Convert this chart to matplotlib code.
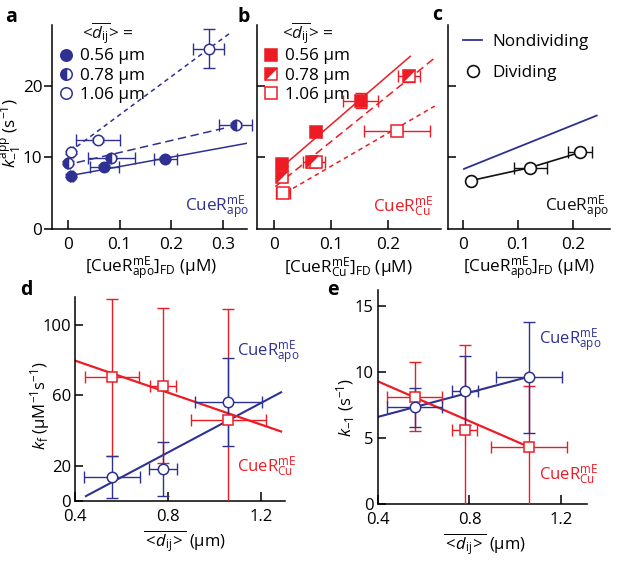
import numpy as np
import matplotlib
matplotlib.use('Agg')
import matplotlib.pyplot as plt
from matplotlib.legend_handler import HandlerTuple

plt.rcParams['font.family'] = ['Open Sans', 'DejaVu Sans']
plt.rcParams['mathtext.fontset'] = 'custom'
plt.rcParams['mathtext.rm'] = 'Open Sans'
plt.rcParams['mathtext.it'] = 'Open Sans:italic'
plt.rcParams['mathtext.bf'] = 'Open Sans:bold'
plt.rcParams['mathtext.sf'] = 'Open Sans'
plt.rcParams['mathtext.fallback'] = 'stixsans'

BLUE = '#2E3192'
RED = '#ED1C24'
BLACK = '#111111'

# ---------------- data ----------------
dij_labels = ['0.56 μm', '0.78 μm', '1.06 μm']

# panel a: CueR_apo, k_-1^app vs [CueR_apo]_FD
a_x = [[0.006, 0.070, 0.189], [0.001, 0.084, 0.325], [0.006, 0.058, 0.273]]
a_y = [[7.45, 8.7, 9.8], [9.27, 9.97, 14.5], [10.7, 12.45, 25.2]]
a_xerr = [[0.003, 0.028, 0.022], [0.003, 0.045, 0.032], [0.003, 0.043, 0.030]]
a_yerr = [[0.2, 0.2, 0.2], [0.2, 0.2, 0.3], [0.2, 0.3, 2.7]]
a_fit_intercept = [7.4, 9.0, 10.6]
a_fit_slope = [13.2, 16.8, 53.4]
a_fit_xstart = [0.005, 0.017, 0.017]
a_fit_xend = [0.347, 0.31, 0.315]

# panel b: CueR_Cu
b_x = [[0.0135, 0.074, 0.152], [0.0135, 0.066, 0.237], [0.016, 0.074, 0.215]]
b_y = [[9.1, 13.5, 17.95], [7.3, 9.3, 21.4], [5.0, 9.3, 13.7]]
b_xerr = [[0.005, 0.008, 0.031], [0.005, 0.015, 0.02], [0.012, 0.016, 0.058]]
b_yerr = [[0.3, 0.3, 1.0], [0.3, 0.3, 0.8], [0.3, 0.3, 0.3]]
b_fit_intercept = [7.73, 5.8, 4.15]
b_fit_slope = [68.6, 64.2, 46.2]
b_fit_xstart = [0.0076, 0.002, 0.0076]
b_fit_xend = [0.239, 0.282, 0.282]

# panel c: dividing vs nondividing
c_div_x = [0.0145, 0.122, 0.213]
c_div_y = [6.76, 8.58, 10.7]
c_div_xerr = [0.004, 0.03, 0.022]
c_nondiv_x = [0.002, 0.243]
c_nondiv_y = [8.4, 15.85]

# panel d: k_f vs <d_ij>
dij = [0.56, 0.78, 1.06]
d_apo_y = [13.7, 18.2, 56.2]
d_apo_yerr = [12.0, 15.5, 25.0]
d_apo_xerr = [0.12, 0.06, 0.145]
d_cu_y = [70.4, 65.5, 46.2]
d_cu_yerr = [44.7, 44.0, 63.0]
d_cu_xerr = [0.115, 0.055, 0.162]
d_fit_apo = (-28.6, 70.2)   # intercept, slope
d_fit_apo_x = [0.447, 1.288]
d_fit_cu = (98.0, -45.4)
d_fit_cu_x = [0.4, 1.288]

# panel e: k_-1 vs <d_ij>
e_apo_y = [7.3, 8.56, 9.6]
e_apo_yerr = [1.5, 2.6, 4.2]
e_apo_xerr = [0.122, 0.058, 0.145]
e_cu_y = [8.13, 5.6, 4.3]
e_cu_yerr = [2.6, 6.4, 4.6]
e_cu_xerr = [0.12, 0.055, 0.166]
e_fit_apo = (4.75, 4.6)
e_fit_apo_x = [0.4, 1.06]
e_fit_cu = (12.27, -7.5)
e_fit_cu_x = [0.4, 1.06]

# ---------------- figure ----------------
fig = plt.figure(figsize=(6.18, 5.65), dpi=100)
ax_a = fig.add_axes([0.0841, 0.5947, 0.3155, 0.361])
ax_b = fig.add_axes([0.4159, 0.5947, 0.2977, 0.361])
ax_c = fig.add_axes([0.7249, 0.5947, 0.2621, 0.361])
ax_d = fig.add_axes([0.1214, 0.1133, 0.3398, 0.361])
ax_e = fig.add_axes([0.6117, 0.108, 0.338, 0.379])

TOP_FS = 12.3
BOT_FS = 12.0

def style(ax, fs, ydir):
    for s in ['top', 'right']:
        ax.spines[s].set_visible(False)
    for s in ['left', 'bottom']:
        ax.spines[s].set_linewidth(1.1)
    ax.tick_params(axis='x', direction='in', length=6.5, width=1.1, pad=6, labelsize=fs)
    ax.tick_params(axis='y', direction=ydir, length=5.5, width=1.1,
                   pad=1.5 if ydir == 'out' else 3, labelsize=fs)

style(ax_a, TOP_FS, 'out')
style(ax_b, TOP_FS, 'in')
style(ax_c, TOP_FS, 'in')
style(ax_d, BOT_FS, 'in')
style(ax_e, BOT_FS, 'in')
for ax in (ax_a, ax_b, ax_c):
    ax.set_ylim(0, 28.5)

dash_styles = ['-', (0, (5.5, 3)), (0, (3, 2.5))]
LW = 1.1

title_txt = '<' + r'$\overline{d_{\rm ij}}$' + '> ='
dij_xlabel = r'$\overline{<\!d_{\rm ij}\!>}$ (μm)'
XLAB_Y = -0.19

# ----- panel a -----
ax_a.set_xlim(-0.031, 0.347)
ax_a.set_xticks([0, 0.1, 0.2, 0.3])
ax_a.set_xticklabels(['0', '0.1', '0.2', '0.3'])
ax_a.set_yticks([0, 10, 20])
fill_a = ['full', 'left', 'none']
handles_a = []
for i in range(3):
    xs = np.array([a_fit_xstart[i], a_fit_xend[i]])
    ax_a.plot(xs, a_fit_intercept[i] + a_fit_slope[i] * xs, color=BLUE, lw=LW,
              linestyle=dash_styles[i], zorder=2)
    ax_a.errorbar(a_x[i], a_y[i], xerr=a_xerr[i], yerr=a_yerr[i], fmt='none',
                  ecolor=BLUE, elinewidth=1.0, capsize=4, capthick=1.0, zorder=3,
                  clip_on=False)
    kw = dict(marker='o', ms=7.5, mec=BLUE, mew=1.1, ls='none', zorder=4, clip_on=False)
    if fill_a[i] == 'none':
        kw.update(mfc='white')
    else:
        kw.update(mfc=BLUE, fillstyle=fill_a[i], markerfacecoloralt='white')
    h, = ax_a.plot(a_x[i], a_y[i], **kw)
    handles_a.append(h)
ax_a.legend(handles_a, dij_labels, loc='upper left', bbox_to_anchor=(0.035, 0.885),
            frameon=False, fontsize=TOP_FS, handlelength=0.9, handletextpad=0.35,
            labelspacing=0.2, borderpad=0, borderaxespad=0, markerscale=1.1)
ax_a.text(0.154, 0.962, title_txt, transform=ax_a.transAxes,
          ha='left', va='center', fontsize=TOP_FS, color=BLACK)
ax_a.text(1.01, 0.108, r'CueR$^{\rm mE}_{\rm apo}$', transform=ax_a.transAxes,
          ha='right', va='center', fontsize=TOP_FS, color=BLUE)
ax_a.set_ylabel(r'$k^{\rm app}_{-1}$ (s$^{-1}$)', fontsize=TOP_FS, va='center')
ax_a.yaxis.set_label_coords(-0.208, 0.47)
ax_a.set_xlabel(r'[CueR$^{\rm mE}_{\rm apo}$]$_{\rm FD}$ (μM)', fontsize=TOP_FS, va='center')
ax_a.xaxis.set_label_coords(0.51, XLAB_Y)

# ----- panel b -----
ax_b.set_xlim(-0.03, 0.293)
ax_b.set_xticks([0, 0.1, 0.2])
ax_b.set_xticklabels(['0', '0.1', '0.2'])
ax_b.set_yticks([10, 20])
ax_b.set_yticklabels([])
tri_verts = [(-1, -1), (-1, 1), (1, 1)]
handles_b = []
for i in range(3):
    xs = np.array([b_fit_xstart[i], b_fit_xend[i]])
    ax_b.plot(xs, b_fit_intercept[i] + b_fit_slope[i] * xs, color=RED, lw=LW,
              linestyle=dash_styles[i], zorder=2)
    ax_b.errorbar(b_x[i], b_y[i], xerr=b_xerr[i], yerr=b_yerr[i], fmt='none',
                  ecolor=RED, elinewidth=1.0, capsize=4, capthick=1.0, zorder=3,
                  clip_on=False)
    base = dict(marker='s', ms=8, mec=RED, mew=1.1, ls='none', zorder=4, clip_on=False)
    if i == 0:
        h, = ax_b.plot(b_x[i], b_y[i], mfc=RED, **base)
        handles_b.append(h)
    elif i == 1:
        h1, = ax_b.plot(b_x[i], b_y[i], mfc='white', **base)
        h2, = ax_b.plot(b_x[i], b_y[i], marker=tri_verts, ms=8, mfc=RED, mec=RED,
                        mew=0.5, ls='none', zorder=5, clip_on=False)
        handles_b.append((h1, h2))
    else:
        h, = ax_b.plot(b_x[i], b_y[i], mfc='white', **base)
        handles_b.append(h)
ax_b.legend(handles_b, dij_labels, loc='upper left', bbox_to_anchor=(0.035, 0.885),
            frameon=False, fontsize=TOP_FS, handlelength=0.9, handletextpad=0.35,
            labelspacing=0.2, borderpad=0, borderaxespad=0,
            handler_map={tuple: HandlerTuple(ndivide=1, pad=0)})
ax_b.text(0.134, 0.962, title_txt, transform=ax_b.transAxes,
          ha='left', va='center', fontsize=TOP_FS, color=BLACK)
ax_b.text(0.96, 0.108, r'CueR$^{\rm mE}_{\rm Cu}$', transform=ax_b.transAxes,
          ha='right', va='center', fontsize=TOP_FS, color=RED)
ax_b.set_xlabel(r'[CueR$^{\rm mE}_{\rm Cu}$]$_{\rm FD}$ (μM)', fontsize=TOP_FS, va='center')
ax_b.xaxis.set_label_coords(0.497, XLAB_Y)

# ----- panel c -----
ax_c.set_xlim(-0.027, 0.267)
ax_c.set_xticks([0, 0.1, 0.2])
ax_c.set_xticklabels(['0', '0.1', '0.2'])
ax_c.set_yticks([10, 20])
ax_c.set_yticklabels([])
hn, = ax_c.plot(c_nondiv_x, c_nondiv_y, color=BLUE, lw=1.3, zorder=2)
ax_c.errorbar(c_div_x, c_div_y, xerr=c_div_xerr, fmt='none', ecolor=BLACK,
              elinewidth=1.0, capsize=4, capthick=1.0, zorder=3)
ax_c.plot(c_div_x, c_div_y, color=BLACK, lw=1.2, zorder=3)
hd, = ax_c.plot(c_div_x, c_div_y, marker='o', ms=8.5, mfc='white', mec=BLACK,
                mew=1.2, ls='none', zorder=4)
ax_c.legend([hn, hd], ['Nondividing', 'Dividing'], loc='upper left',
            bbox_to_anchor=(0.095, 0.955), frameon=False, fontsize=TOP_FS,
            handlelength=1.1, handletextpad=0.6, labelspacing=0.85,
            borderpad=0, borderaxespad=0)
ax_c.text(0.995, 0.108, r'CueR$^{\rm mE}_{\rm apo}$', transform=ax_c.transAxes,
          ha='right', va='center', fontsize=TOP_FS, color=BLACK)
ax_c.set_xlabel(r'[CueR$^{\rm mE}_{\rm apo}$]$_{\rm FD}$ (μM)', fontsize=TOP_FS, va='center')
ax_c.xaxis.set_label_coords(0.5, XLAB_Y)

# ----- panel d -----
ax_d.set_xlim(0.4, 1.305)
ax_d.set_ylim(0, 116)
ax_d.set_xticks([0.4, 0.8, 1.2])
ax_d.set_yticks([0, 20, 60, 100])
xs = np.array(d_fit_apo_x)
ax_d.plot(xs, d_fit_apo[0] + d_fit_apo[1] * xs, color=BLUE, lw=1.5, zorder=2)
xs = np.array(d_fit_cu_x)
ax_d.plot(xs, d_fit_cu[0] + d_fit_cu[1] * xs, color=RED, lw=1.6, zorder=2)
ax_d.errorbar(dij, d_cu_y, xerr=d_cu_xerr, yerr=d_cu_yerr, fmt='none', ecolor=RED,
              elinewidth=1.0, capsize=4.5, capthick=1.0, zorder=3)
ax_d.errorbar(dij, d_apo_y, xerr=d_apo_xerr, yerr=d_apo_yerr, fmt='none', ecolor=BLUE,
              elinewidth=1.0, capsize=4.5, capthick=1.0, zorder=3)
ax_d.plot(dij, d_cu_y, marker='s', ms=7.2, mfc='white', mec=RED, mew=1.1, ls='none', zorder=4)
ax_d.plot(dij, d_apo_y, marker='o', ms=7.5, mfc='white', mec=BLUE, mew=1.1, ls='none', zorder=4)
ax_d.text(0.771, 0.73, r'CueR$^{\rm mE}_{\rm apo}$', transform=ax_d.transAxes,
          ha='left', va='center', fontsize=BOT_FS, color=BLUE)
ax_d.text(0.771, 0.167, r'CueR$^{\rm mE}_{\rm Cu}$', transform=ax_d.transAxes,
          ha='left', va='center', fontsize=BOT_FS, color=RED)
ax_d.set_ylabel(r'$k_{\rm f}$ (μM$^{-1}$s$^{-1}$)', fontsize=BOT_FS, va='center')
ax_d.yaxis.set_label_coords(-0.168, 0.47)
ax_d.set_xlabel(dij_xlabel, fontsize=BOT_FS, va='center')
ax_d.xaxis.set_label_coords(0.52, -0.195)

# ----- panel e -----
ax_e.set_xlim(0.4, 1.314)
ax_e.set_ylim(0, 16.2)
ax_e.set_xticks([0.4, 0.8, 1.2])
ax_e.set_yticks([0, 5, 10, 15])
xs = np.array(e_fit_apo_x)
ax_e.plot(xs, e_fit_apo[0] + e_fit_apo[1] * xs, color=BLUE, lw=1.5, zorder=2)
xs = np.array(e_fit_cu_x)
ax_e.plot(xs, e_fit_cu[0] + e_fit_cu[1] * xs, color=RED, lw=1.6, zorder=2)
ax_e.errorbar(dij, e_cu_y, xerr=e_cu_xerr, yerr=e_cu_yerr, fmt='none', ecolor=RED,
              elinewidth=1.0, capsize=4.5, capthick=1.0, zorder=3)
ax_e.errorbar(dij, e_apo_y, xerr=e_apo_xerr, yerr=e_apo_yerr, fmt='none', ecolor=BLUE,
              elinewidth=1.0, capsize=4.5, capthick=1.0, zorder=3)
ax_e.plot(dij, e_cu_y, marker='s', ms=7.2, mfc='white', mec=RED, mew=1.1, ls='none', zorder=4)
ax_e.plot(dij, e_apo_y, marker='o', ms=7.5, mfc='white', mec=BLUE, mew=1.1, ls='none', zorder=4)
ax_e.text(0.77, 0.766, r'CueR$^{\rm mE}_{\rm apo}$', transform=ax_e.transAxes,
          ha='left', va='center', fontsize=BOT_FS, color=BLUE)
ax_e.text(0.77, 0.135, r'CueR$^{\rm mE}_{\rm Cu}$', transform=ax_e.transAxes,
          ha='left', va='center', fontsize=BOT_FS, color=RED)
ax_e.set_ylabel(r'$k_{-1}$ (s$^{-1}$)', fontsize=BOT_FS, va='center')
ax_e.yaxis.set_label_coords(-0.155, 0.453)
ax_e.set_xlabel(dij_xlabel, fontsize=BOT_FS, va='center')
ax_e.xaxis.set_label_coords(0.507, -0.186)

# panel letters
W, H = 618, 565
for letter, px, py in [('a', 11.5, 22), ('b', 243.5, 22), ('c', 437.5, 20),
                       ('d', 26, 295), ('e', 332.5, 295)]:
    fig.text(px / W, 1 - py / H, letter, ha='center', va='baseline',
             fontsize=14, fontweight='bold')

fig.savefig('out.png', dpi=100)
